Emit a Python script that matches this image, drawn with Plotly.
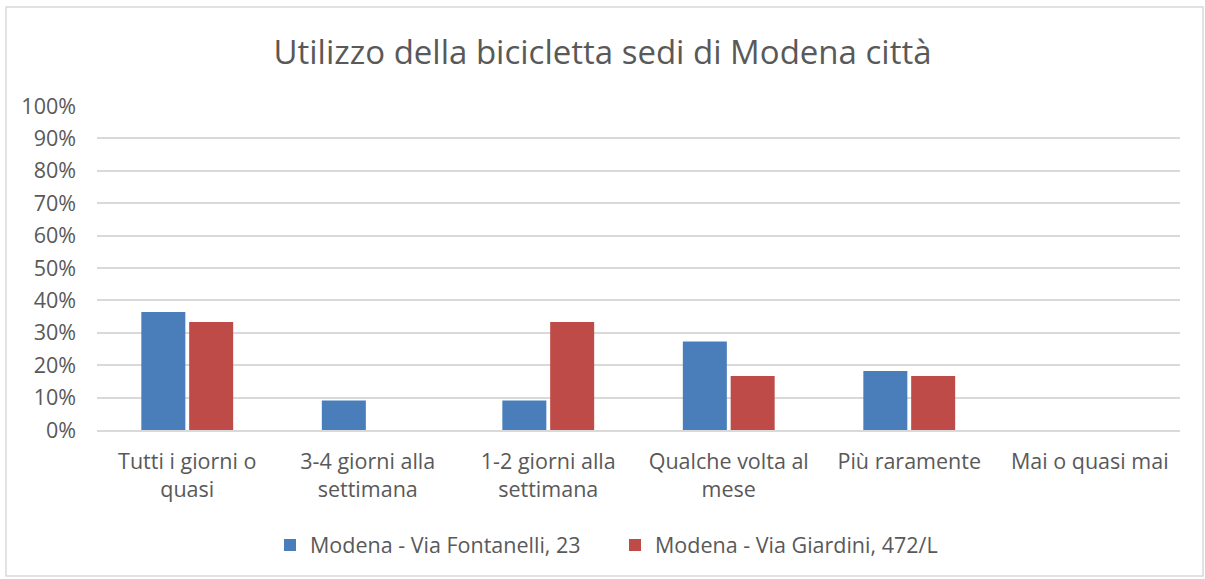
import plotly.graph_objects as go

# Frequenza di utilizzo della bicicletta per sede
categories = [
    "Tutti i giorni o<br>quasi",
    "3-4 giorni alla<br>settimana",
    "1-2 giorni alla<br>settimana",
    "Qualche volta al<br>mese",
    "Più raramente",
    "Mai o quasi mai",
]
fontanelli = [0.364, 0.091, 0.091, 0.273, 0.182, 0.0]
giardini = [0.333, 0.0, 0.333, 0.167, 0.167, 0.0]
series_names = ["Modena - Via Fontanelli, 23", "Modena - Via Giardini, 472/L"]
y_ticks = [i / 10 for i in range(11)]
y_tick_labels = [f"{i * 10}%" for i in range(11)]

W, H = 1205, 579
L, R, T, B = 97, 25, 106, 149
pw, ph = W - L - R, H - T - B

font_family = "Open Sans, Noto Sans, sans-serif"
text_color = "#595959"

fig = go.Figure()
fig.add_trace(go.Bar(x=categories, y=fontanelli, name=series_names[0],
                     marker=dict(color="#4a7ebb", line=dict(width=0))))
fig.add_trace(go.Bar(x=categories, y=giardini, name=series_names[1],
                     marker=dict(color="#be4b48", line=dict(width=0))))

def px_x(v):
    return (v - L) / pw

def px_y(v):
    return (H - B - v) / ph

# outer chart frame
fig.add_shape(type="rect", xref="paper", yref="paper",
              x0=px_x(6), x1=px_x(1203), y0=px_y(576), y1=px_y(7),
              line=dict(color="#d9d9d9", width=1.5), fillcolor="rgba(0,0,0,0)",
              layer="below")

fig.update_layout(
    width=W, height=H,
    margin=dict(l=L, r=R, t=T, b=B),
    paper_bgcolor="white", plot_bgcolor="white",
    barmode="group", bargap=0.47, bargroupgap=0.08,
    font=dict(family=font_family, color=text_color, size=21),
    title=dict(text="Utilizzo della bicicletta sedi di Modena città",
               x=0.5, xanchor="center", xref="container",
               y=1 - 52 / H, yanchor="middle",
               font=dict(size=33, color=text_color, family=font_family)),
    xaxis=dict(showgrid=False, showline=True, linecolor="#d9d9d9", linewidth=1.5,
               ticks="", tickfont=dict(size=21.5, color=text_color),
               ticklabelstandoff=11),
    yaxis=dict(range=[0, 1.0], tickvals=y_ticks, ticktext=y_tick_labels,
               showgrid=True, gridcolor="#d9d9d9", gridwidth=1.5,
               zeroline=False, ticks="", tickfont=dict(size=21.5, color=text_color),
               ticklabelstandoff=20),
    legend=dict(orientation="h", x=px_x(615), xanchor="center",
                y=px_y(545), yanchor="middle",
                font=dict(size=21.5, color=text_color),
                itemwidth=30, entrywidth=300, traceorder="normal"),
    showlegend=True,
)

fig.write_html("out.html")
